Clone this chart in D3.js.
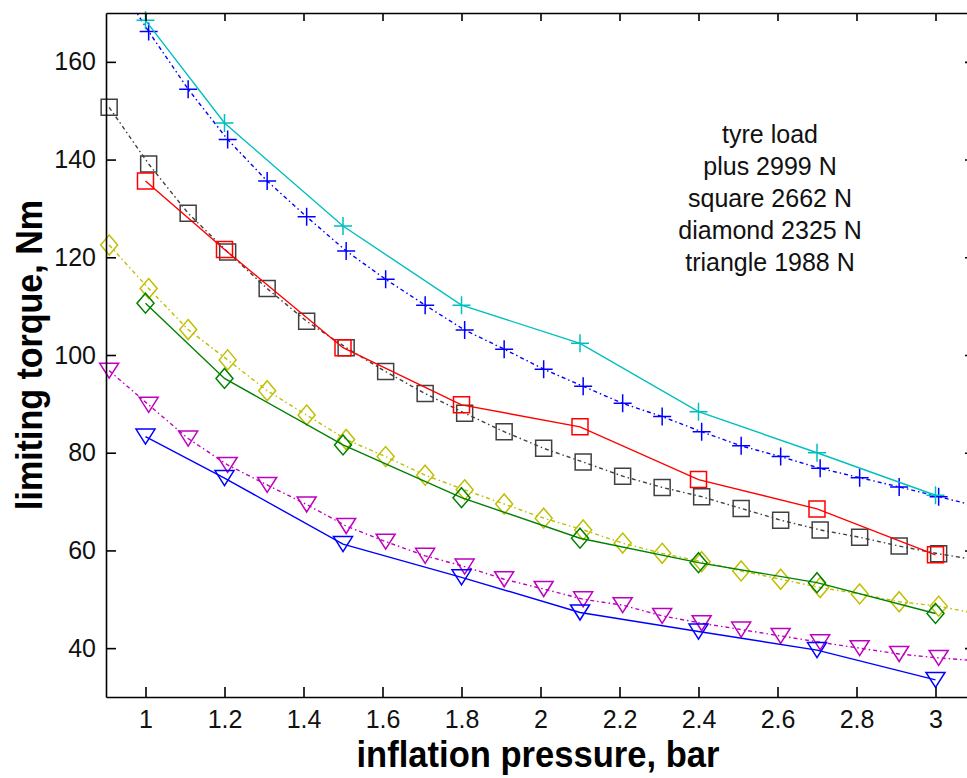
<!DOCTYPE html>
<html>
<head>
<meta charset="utf-8">
<script src="https://cdn.jsdelivr.net/npm/d3@7"></script>
<style>
  html, body { margin: 0; padding: 0; background: #fff; }
  svg { display: block; }
</style>
</head>
<body>
<svg id="chart" width="967" height="778"></svg>
<script>
// ---------- data ----------
const xSparse = [1.0, 1.2, 1.5, 1.8, 2.1, 2.4, 2.7, 3.0];
const xDense = [0.908, 1.008, 1.108, 1.208, 1.308, 1.408, 1.508, 1.608, 1.708, 1.808, 1.908,
                2.008, 2.108, 2.208, 2.308, 2.408, 2.508, 2.608, 2.708, 2.808, 2.908, 3.008, 3.108];

// solid lines (sparse)
const plusSolid     = [168.5, 147.5, 126.4, 110.2, 102.4, 88.4, 80.0, 71.3];
const squareSolid   = [135.6, 121.6, 101.5, 89.8, 85.3, 74.5, 68.5, 59.1];
const diamondSolid  = [110.6, 95.2, 81.6, 70.8, 62.5, 57.5, 53.4, 47.1];
const triangleSolid = [83.3, 74.8, 61.3, 54.5, 47.3, 43.4, 39.6, 33.5];

// dotted lines (dense)
const plusDotted     = [179.0, 166.2, 154.4, 144.1, 135.6, 128.3, 121.3, 115.5, 110.2, 105.1, 101.2,
                        97.1, 93.6, 90.1, 87.4, 84.3, 81.4, 79.2, 76.8, 74.9, 73.0, 71.0, 69.0];
const squareDotted   = [150.7, 139.1, 129.0, 121.1, 113.6, 106.9, 101.5, 96.6, 92.1, 88.1, 84.3,
                        80.9, 78.1, 75.2, 72.9, 71.0, 68.6, 66.2, 64.2, 62.7, 60.9, 59.3, 58.0];
const diamondDotted  = [122.5, 113.6, 105.2, 99.0, 92.7, 87.7, 82.7, 79.2, 75.4, 72.4, 69.5,
                        66.6, 64.2, 61.5, 59.4, 57.7, 55.8, 54.1, 52.4, 51.1, 49.5, 48.6, 47.0];
const triangleDotted = [96.8, 89.8, 82.9, 77.5, 73.4, 69.4, 65.0, 61.8, 58.9, 56.7, 54.1,
                        52.1, 50.0, 48.8, 46.6, 45.1, 43.8, 42.5, 41.2, 40.0, 38.8, 38.0, 37.4];

const xTicks = [1, 1.2, 1.4, 1.6, 1.8, 2, 2.2, 2.4, 2.6, 2.8, 3];
const yTicks = [40, 60, 80, 100, 120, 140, 160];
const xDomain = [0.9, 3.1];
const yDomain = [30, 170];

const legendLines = ["tyre load", "plus 2999 N", "square 2662 N", "diamond 2325 N", "triangle 1988 N"];
const xTitle = "inflation pressure, bar";
const yTitle = "limiting torque, Nm";

// ---------- layout ----------
const L = 106, R = 975, T = 13, B = 697;
const svg = d3.select("#chart");
const x = d3.scaleLinear().domain(xDomain).range([L, R]);
const y = d3.scaleLinear().domain(yDomain).range([B, T]);

svg.append("defs").append("clipPath").attr("id", "plotclip")
  .append("rect").attr("x", L).attr("y", T).attr("width", R - L).attr("height", B - T);

const markers = {
  plus: "M-9,0H9M0,-9V9",
  square: "M-8,-8H8V8H-8Z",
  diamond: "M0,-10L8.5,0L0,10L-8.5,0Z",
  triangle: "M-9.5,-7.5H9.5L0,7.5Z"
};

const series = [
  { xs: xDense,  ys: plusDotted,     color: "#0000ff", marker: "plus",     dash: "4,3,1.5,3" },
  { xs: xSparse, ys: plusSolid,      color: "#00bfbf", marker: "plus",     dash: null },
  { xs: xDense,  ys: squareDotted,   color: "#404040", marker: "square",   dash: "4,3,1.5,3" },
  { xs: xSparse, ys: squareSolid,    color: "#ff0000", marker: "square",   dash: null },
  { xs: xDense,  ys: diamondDotted,  color: "#bfbf00", marker: "diamond",  dash: "4,3,1.5,3" },
  { xs: xSparse, ys: diamondSolid,   color: "#008000", marker: "diamond",  dash: null },
  { xs: xDense,  ys: triangleDotted, color: "#bf00bf", marker: "triangle", dash: "4,3,1.5,3" },
  { xs: xSparse, ys: triangleSolid,  color: "#0000ff", marker: "triangle", dash: null }
];

const line = d3.line().x(d => x(d[0])).y(d => y(d[1]));

const plot = svg.append("g");
series.forEach(s => {
  const pts = s.xs.map((xv, i) => [xv, s.ys[i]]);
  plot.append("path")
    .attr("d", line(pts))
    .attr("fill", "none")
    .attr("stroke", s.color)
    .attr("stroke-width", 1.4)
    .attr("stroke-dasharray", s.dash)
    .attr("clip-path", "url(#plotclip)");
  const inside = pts.filter(p => p[0] >= xDomain[0] && p[0] <= xDomain[1] && p[1] >= yDomain[0] && p[1] <= yDomain[1]);
  plot.selectAll(null).data(inside).enter().append("path")
    .attr("d", markers[s.marker])
    .attr("transform", p => `translate(${x(p[0])},${y(p[1])})`)
    .attr("fill", "none")
    .attr("stroke", s.color)
    .attr("stroke-width", 1.5);
});

// ---------- axes ----------
const font = "'Liberation Sans', Arial, Helvetica, sans-serif";
function styleAxis(g) {
  g.select(".domain").attr("stroke", "#000").attr("stroke-width", 1.6);
  g.selectAll(".tick line").attr("stroke", "#000").attr("stroke-width", 1.6);
  g.selectAll(".tick text").attr("fill", "#111").style("font-family", font).style("font-size", "25px");
}

svg.append("g").attr("transform", `translate(0,${B})`)
  .call(d3.axisBottom(x).tickValues(xTicks).tickSizeInner(-10).tickSizeOuter(0).tickPadding(13)
        .tickFormat(d3.format("")))
  .call(styleAxis);
svg.append("g").attr("transform", `translate(0,${T})`)
  .call(d3.axisTop(x).tickValues(xTicks).tickSizeInner(-8).tickSizeOuter(0).tickFormat(""))
  .call(styleAxis);
svg.append("g").attr("transform", `translate(${L},0)`)
  .call(d3.axisLeft(y).tickValues(yTicks).tickSizeInner(-10).tickSizeOuter(0).tickPadding(10)
        .tickFormat(d3.format("")))
  .call(styleAxis);
svg.append("g").attr("transform", `translate(${R},0)`)
  .call(d3.axisRight(y).tickValues(yTicks).tickSizeInner(-10).tickSizeOuter(0).tickFormat(""))
  .call(styleAxis);
svg.selectAll(".domain").attr("fill", "none");

// ---------- titles ----------
svg.append("text")
  .attr("x", 538).attr("y", 767)
  .attr("text-anchor", "middle")
  .attr("textLength", 363).attr("lengthAdjust", "spacingAndGlyphs")
  .style("font-family", font).style("font-size", "36px").style("font-weight", "bold")
  .text(xTitle);

svg.append("text")
  .attr("transform", "translate(42,355) rotate(-90)")
  .attr("text-anchor", "middle")
  .attr("textLength", 310).attr("lengthAdjust", "spacingAndGlyphs")
  .style("font-family", font).style("font-size", "37px").style("font-weight", "bold")
  .text(yTitle);

// ---------- annotation ----------
svg.append("g").selectAll("text").data(legendLines).enter().append("text")
  .attr("x", 770).attr("y", (d, i) => 143 + 32 * i)
  .attr("text-anchor", "middle")
  .attr("fill", "#111")
  .style("font-family", font).style("font-size", "25px")
  .text(d => d);
</script>
</body>
</html>
